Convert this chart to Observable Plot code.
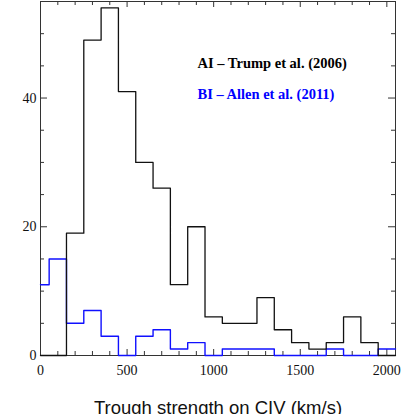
<!DOCTYPE html>
<html>
<head>
<meta charset="utf-8">
<script src="https://cdn.jsdelivr.net/npm/d3@7"></script>
<script src="https://cdn.jsdelivr.net/npm/@observablehq/plot@0.6"></script>
<style>
  html, body { margin: 0; padding: 0; background: #fff; }
  #chart svg { display: block; }
</style>
</head>
<body>
<div id="chart"></div>
<script>
// Bin centers (km/s), bin width 100
const binCenters = [0, 100, 200, 300, 400, 500, 600, 700, 800, 900, 1000, 1100, 1200, 1300, 1400, 1500, 1600, 1700, 1800, 1900, 2000];
// AI – Trump et al. (2006)
const aiCounts = [0, 0, 19, 49, 54, 41, 30, 26, 11, 20, 6, 5, 5, 9, 4, 2, 1, 2, 6, 2, 0];
// BI – Allen et al. (2011)
const biCounts = [11, 15, 5, 7, 3, 0, 3, 4, 1, 2, 0, 1, 1, 1, 0, 0, 0, 1, 0, 0, 1];
const binWidth = 100;

const xTickLabels = [0, 500, 1000, 1500, 2000];
const yTickLabels = [0, 20, 40];
const xMinorTicks = d3.range(100, 2050, 100).filter(v => v % 500 !== 0);
const yMinorTicks = [5, 10, 15, 25, 30, 35, 45, 50];

const legendLabels = ["AI – Trump et al. (2006)", "BI – Allen et al. (2011)"];
const xAxisLabel = ["Trough strength on CIV (km/s)"];

const xDomain = [0, 2050];
const yDomain = [0, 55];

const W = 409, H = 414;
const mL = 40, mR = 14, mT = 1, mB = 59;
const innerW = W - mL - mR, innerH = H - mT - mB;

function steps(counts) {
  const pts = binCenters.map((c, i) => ({x: Math.max(xDomain[0], c - binWidth / 2), y: counts[i]}));
  pts.push({x: Math.min(xDomain[1], binCenters[binCenters.length - 1] + binWidth / 2), y: counts[counts.length - 1]});
  return pts;
}

const frameColor = "#333";
const serif = "'Liberation Serif', 'Times New Roman', serif";
const fmt = d3.format("d");

const plot = Plot.plot({
  width: W,
  height: H,
  marginLeft: mL,
  marginRight: mR,
  marginTop: mT,
  marginBottom: mB,
  x: {domain: xDomain, label: null},
  y: {domain: yDomain, label: null},
  style: {background: "#fff"},
  marks: [
    Plot.axisX(xTickLabels, {tickSize: 0, tickPadding: 10, tickFormat: fmt, fontSize: 14, fontFamily: serif, fill: "#111", label: null}),
    Plot.axisY(yTickLabels, {tickSize: 0, tickPadding: 4, tickFormat: fmt, fontSize: 14, fontFamily: serif, fill: "#111", label: null}),
    // inward ticks: bottom / top
    Plot.tickX(xMinorTicks, {x: d => d, insetTop: innerH - 4, stroke: frameColor}),
    Plot.tickX(xMinorTicks, {x: d => d, insetBottom: innerH - 4, stroke: frameColor}),
    Plot.tickX(xTickLabels, {x: d => d, insetTop: innerH - 6, stroke: frameColor}),
    Plot.tickX(xTickLabels, {x: d => d, insetBottom: innerH - 6, stroke: frameColor}),
    // inward ticks: left / right
    Plot.tickY(yMinorTicks, {y: d => d, insetRight: innerW - 4, stroke: frameColor}),
    Plot.tickY(yMinorTicks, {y: d => d, insetLeft: innerW - 4, stroke: frameColor}),
    Plot.tickY(yTickLabels, {y: d => d, insetRight: innerW - 7, stroke: frameColor}),
    Plot.tickY(yTickLabels, {y: d => d, insetLeft: innerW - 7, stroke: frameColor}),
    Plot.frame({stroke: frameColor, strokeWidth: 1}),
    // histograms
    Plot.line(steps(biCounts), {x: "x", y: "y", curve: "step-after", stroke: "#1010ff", strokeWidth: 1.4}),
    Plot.line(steps(aiCounts), {x: "x", y: "y", curve: "step-after", stroke: "#111", strokeWidth: 1.3}),
    // legend
    Plot.text([legendLabels[0]], {frameAnchor: "top-left", dx: 157, dy: 66.5, text: d => d, textAnchor: "start", lineAnchor: "bottom",
      fontFamily: serif, fontWeight: "bold", fontSize: 14.5, fill: "#000"}),
    Plot.text([legendLabels[1]], {frameAnchor: "top-left", dx: 157, dy: 97.5, text: d => d, textAnchor: "start", lineAnchor: "bottom",
      fontFamily: serif, fontWeight: "bold", fontSize: 14.5, fill: "#0000ff"}),
    // x axis title
    Plot.text(xAxisLabel, {frameAnchor: "bottom", dy: 58, text: d => d, textAnchor: "middle", lineAnchor: "bottom",
      fontFamily: "'Liberation Sans', Arial, sans-serif", fontSize: 18.5, fill: "#111"})
  ]
});

document.getElementById("chart").appendChild(plot);
</script>
</body>
</html>
